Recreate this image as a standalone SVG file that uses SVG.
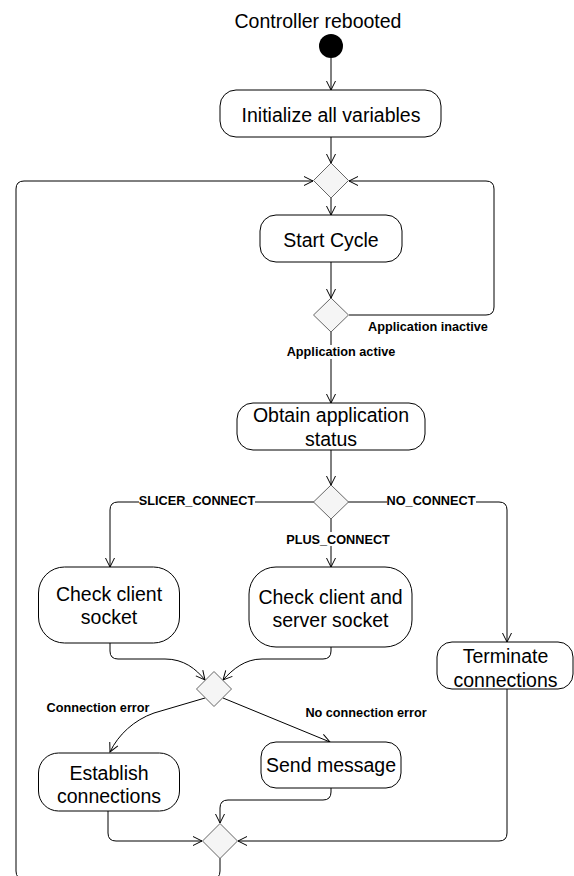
<svg xmlns="http://www.w3.org/2000/svg" width="574" height="876" viewBox="0 0 574 876">
  <style>
    .node { fill: #ffffff; stroke: #000000; stroke-width: 1; }
    .decision { fill: #f5f5f5; stroke: #666666; stroke-width: 1; }
    .edge { fill: none; stroke: #000000; stroke-width: 1; }
    .txt { font-family: "Liberation Sans", Arial, Helvetica, sans-serif; font-size: 19.5px; fill: #000000; text-anchor: middle; }
    .lbl { font-family: "Liberation Sans", Arial, Helvetica, sans-serif; font-size: 12.7px; font-weight: bold; fill: #000000; text-anchor: middle; }
    .lblbg { fill: #ffffff; stroke: none; }
  </style>
  <defs>
    <marker id="open" markerWidth="12" markerHeight="12" refX="10" refY="6" orient="auto" markerUnits="userSpaceOnUse">
      <path d="M1,1.5 L10,6 L1,10.5" fill="none" stroke="#000000" stroke-width="1"/>
    </marker>
  </defs>

  <!-- connectors -->
  <g id="connectors">
    <path class="edge" d="M331,58 V90" marker-end="url(#open)"/>
    <path class="edge" d="M331,137 V163" marker-end="url(#open)"/>
    <path class="edge" d="M331,198 V215" marker-end="url(#open)"/>
    <path class="edge" d="M331,262 V298" marker-end="url(#open)"/>
    <!-- inactive loop back to cycle start -->
    <path class="edge" d="M349,315 H486 Q494,315 494,307 V189 Q494,181 486,181 H349" marker-end="url(#open)"/>
    <path class="edge" d="M331,332 V403" marker-end="url(#open)"/>
    <path class="edge" d="M331,450 V485" marker-end="url(#open)"/>
    <!-- status branches -->
    <path class="edge" d="M314,502 H118 Q110,502 110,510 V567" marker-end="url(#open)"/>
    <path class="edge" d="M331,519 V567" marker-end="url(#open)"/>
    <path class="edge" d="M348,502 H499 Q507,502 507,510 V642" marker-end="url(#open)"/>
    <!-- socket checks into error decision -->
    <path class="edge" d="M110,643 V651 Q110,659 118,659 H165 C184,659 196,669 205,680" marker-end="url(#open)"/>
    <path class="edge" d="M331,647 V651 Q331,659 323,659 H262 C245,659 233,669 223,680" marker-end="url(#open)"/>
    <!-- error decision outcomes -->
    <path class="edge" d="M205,698 L154,713 C134,720 118,735 110,752" marker-end="url(#open)"/>
    <path class="edge" d="M223,698 L330,742" marker-end="url(#open)"/>
    <!-- into end-of-cycle merge -->
    <path class="edge" d="M331,788 V792 Q331,800 323,800 H228 Q220,800 220,808 V823" marker-end="url(#open)"/>
    <path class="edge" d="M108,811 V833 Q108,841 116,841 H202" marker-end="url(#open)"/>
    <path class="edge" d="M507,689 V833 Q507,841 499,841 H238" marker-end="url(#open)"/>
    <!-- main loop back to cycle start -->
    <path class="edge" d="M220,858 V871 Q220,879 212,879 H24 Q16,879 16,871 V189 Q16,181 24,181 H313" marker-end="url(#open)"/>

    <!-- connector labels -->
    <text class="lbl" x="428" y="331">Application inactive</text>
    <rect class="lblbg" x="286" y="345" width="110" height="14"/>
    <text class="lbl" x="341" y="356">Application active</text>
    <rect class="lblbg" x="139" y="494" width="116" height="14"/>
    <text class="lbl" x="197" y="504.5">SLICER_CONNECT</text>
    <rect class="lblbg" x="387" y="494" width="89" height="14"/>
    <text class="lbl" x="431" y="504.5">NO_CONNECT</text>
    <rect class="lblbg" x="285" y="532" width="106" height="14"/>
    <text class="lbl" x="338" y="543.5">PLUS_CONNECT</text>
    <text class="lbl" x="98" y="712">Connection error</text>
    <text class="lbl" x="366" y="716.5">No connection error</text>
  </g>

  <g id="start">
    <text class="txt" x="318" y="28">Controller rebooted</text>
    <circle cx="331" cy="46" r="12" fill="#000000"/>
  </g>

  <g id="init">
    <rect class="node" x="220" y="90" width="221" height="47" rx="16"/>
    <text class="txt" x="331" y="122">Initialize all variables</text>
  </g>

  <g id="merge-cycle">
    <polygon class="decision" points="331,163 348.5,180.5 331,198 313.5,180.5"/>
  </g>

  <g id="start-cycle">
    <rect class="node" x="260" y="215" width="142" height="47" rx="16"/>
    <text class="txt" x="331" y="247">Start Cycle</text>
  </g>

  <g id="app-active">
    <polygon class="decision" points="331,298 348.5,315 331,332 313.5,315"/>
  </g>

  <g id="obtain-status">
    <rect class="node" x="237" y="403" width="188" height="47" rx="16"/>
    <text class="txt" x="331" y="421.5">Obtain application</text>
    <text class="txt" x="331" y="445.5">status</text>
  </g>

  <g id="status-decision">
    <polygon class="decision" points="331,485 348.5,502 331,519 313.5,502"/>
  </g>

  <g id="check-client">
    <rect class="node" x="38.5" y="567" width="141" height="76" rx="26"/>
    <text class="txt" x="109" y="601">Check client</text>
    <text class="txt" x="109" y="623.5">socket</text>
  </g>

  <g id="check-client-server">
    <rect class="node" x="249" y="567" width="163" height="80" rx="27"/>
    <text class="txt" x="330.5" y="603.5">Check client and</text>
    <text class="txt" x="330.5" y="626.5">server socket</text>
  </g>

  <g id="terminate">
    <rect class="node" x="437" y="642" width="136" height="47" rx="15"/>
    <text class="txt" x="505.5" y="663">Terminate</text>
    <text class="txt" x="505.5" y="686.5">connections</text>
  </g>

  <g id="error-decision">
    <polygon class="decision" points="214,671.5 231.5,689 214,706.5 196.5,689"/>
  </g>

  <g id="establish">
    <rect class="node" x="38.5" y="753" width="141" height="58" rx="20"/>
    <text class="txt" x="109" y="780">Establish</text>
    <text class="txt" x="109" y="803">connections</text>
  </g>

  <g id="send-message">
    <rect class="node" x="261" y="742" width="140" height="46" rx="15"/>
    <text class="txt" x="331" y="772">Send message</text>
  </g>

  <g id="merge-end">
    <polygon class="decision" points="220,823.5 237.5,841 220,858.5 202.5,841"/>
  </g>
</svg>
